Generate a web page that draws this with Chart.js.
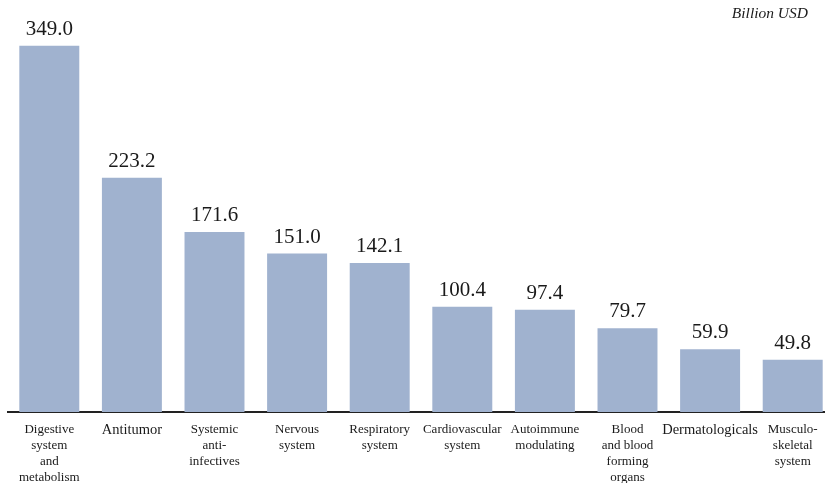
<!DOCTYPE html>
<html>
<head>
<meta charset="utf-8">
<script src="https://cdn.jsdelivr.net/npm/chart.js@4.4.0/dist/chart.umd.min.js"></script>
<style>
  html, body { margin: 0; padding: 0; background: #fff; overflow: hidden; }
  #wrap { width: 825px; height: 483px; overflow: hidden; }
</style>
</head>
<body>
<div id="wrap"><canvas id="chart" width="835" height="497"></canvas></div>
<script>
// DATA
const categories = [
  ["Digestive", "system", "and", "metabolism"],
  ["Antitumor"],
  ["Systemic", "anti-", "infectives"],
  ["Nervous", "system"],
  ["Respiratory", "system"],
  ["Cardiovascular", "system"],
  ["Autoimmune", "modulating"],
  ["Blood", "and blood", "forming", "organs"],
  ["Dermatologicals"],
  ["Musculo-", "skeletal", "system"]
];
const values = [349.0, 223.2, 171.6, 151.0, 142.1, 100.4, 97.4, 79.7, 59.9, 49.8];
const unitLabel = "Billion USD";

const SERIF = "'Liberation Serif', 'DejaVu Serif', serif";

// value labels above bars + unit text
const barLabels = {
  id: "barLabels",
  afterDatasetsDraw(chart) {
    const ctx = chart.ctx;
    const meta = chart.getDatasetMeta(0);
    ctx.save();
    ctx.fillStyle = "#1a1a1a";
    ctx.font = "21px " + SERIF;
    ctx.textAlign = "center";
    ctx.textBaseline = "alphabetic";
    meta.data.forEach((bar, i) => {
      ctx.fillText(values[i].toFixed(1), bar.x, bar.y - 11);
    });
    ctx.font = "italic 15.5px " + SERIF;
    ctx.textAlign = "right";
    ctx.fillText(unitLabel, 808, 18);
    ctx.restore();
  }
};

new Chart(document.getElementById("chart"), {
  type: "bar",
  data: {
    labels: categories,
    datasets: [{
      data: values,
      backgroundColor: "#a0b2cf",
      borderWidth: 0,
      barPercentage: 0.726,
      categoryPercentage: 1.0
    }]
  },
  options: {
    responsive: false,
    animation: false,
    devicePixelRatio: 1,
    layout: { padding: { left: 8, right: 1, top: 8, bottom: 1 } },
    plugins: {
      legend: { display: false },
      tooltip: { enabled: false }
    },
    scales: {
      x: {
        grid: { display: false, drawTicks: false },
        border: { display: true, color: "#222", width: 2 },
        ticks: {
          color: "#1a1a1a",
          padding: 10,
          maxRotation: 0,
          autoSkip: false,
          font: (c) => ({
            family: SERIF,
            size: (c.index === 1 || c.index === 8) ? 14.5 : 13,
            lineHeight: "16px"
          })
        }
      },
      y: {
        display: false,
        min: 0,
        max: 385
      }
    }
  },
  plugins: [barLabels]
});
</script>
</body>
</html>
